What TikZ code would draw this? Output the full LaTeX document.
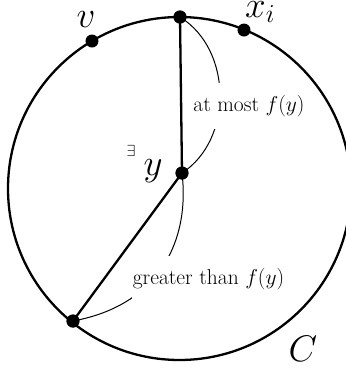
\RequirePackage{fix-cm}
\documentclass[tikz,border=0pt]{standalone}
\begin{document}
\begin{tikzpicture}[x=1pt,y=-1pt,
  dot/.style={circle,fill=black,inner sep=0pt,minimum size=13pt},
  thick line/.style={line width=2.3pt},
  thin arc/.style={line width=1pt},
  lbl/.style={fill=white,inner xsep=1pt,inner ysep=12pt,font=\fontsize{21.5}{24}\selectfont},
  big/.style={inner sep=0pt,font=\fontsize{37}{40}\selectfont}]
\useasboundingbox (0,0) rectangle (346,368);
\coordinate (O) at (179.5,188.5);
\draw[thick line] (O) circle[radius=171.5pt];
\node[dot] (top) at (180,17) {};
\node[dot] (v) at (92,41) {};
\node[dot] (xi) at (244,30) {};
\node[dot] (y) at (182,173) {};
\node[dot] (b) at (73,321) {};
\draw[thick line] (top.center) -- (y.center);
\draw[thick line] (y.center) -- (b.center);
\draw[thin arc] (top.center) .. controls +(53,33) and +(51,-33) .. (y.center);
\draw[thin arc] (y.center) .. controls +(8,67) and +(87,-16) .. (b.center);
\node[lbl] (l1) at (249,106) {at most $f(y)$};
\node[lbl] (l2) at (208.5,279) {greater than $f(y)$};
\node[dot] at (top) {};
\node[dot] at (y) {};
\node[dot] at (b) {};
\node[big,anchor=base] (vl) at (86,27) {$v$};
\node[big,anchor=base west] (xl) at (245,17) {$x_i$};
\node[big,anchor=base] (yl) at (153,175) {$y$};
\node[inner sep=0pt,anchor=base,font=\fontsize{16}{18}\selectfont] (ex) at (131,156) {$\exists$};
\node[big,anchor=base] (Cl) at (303,361) {$C$};
\end{tikzpicture}
\end{document}
